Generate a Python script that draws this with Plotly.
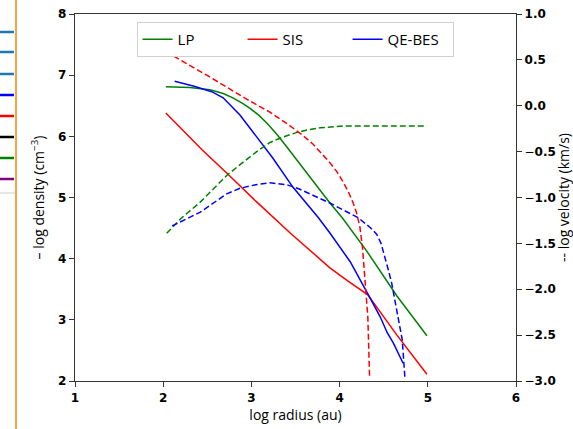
import plotly.graph_objects as go

# ---- data (log radius in au) ----
lp_r = [2.03, 2.30, 2.53, 2.68, 2.79, 2.90, 2.98, 3.08, 3.18, 3.29, 3.40, 3.60, 3.89, 4.03, 4.30, 4.65, 4.99]
lp_dens = [6.81, 6.80, 6.76, 6.70, 6.63, 6.54, 6.46, 6.35, 6.21, 6.03, 5.83, 5.45, 4.91, 4.67, 4.14, 3.39, 2.74]

lp_vr = [2.04, 2.20, 2.42, 2.72, 2.90, 3.06, 3.21, 3.36, 3.52, 3.65, 3.78, 3.90, 4.04, 4.50, 4.99]
lp_vel = [-1.39, -1.23, -1.05, -0.76, -0.62, -0.50, -0.40, -0.34, -0.29, -0.26, -0.24, -0.23, -0.22, -0.22, -0.22]

sis_r = [2.03, 2.44, 2.72, 3.05, 3.44, 3.89, 4.10, 4.32, 4.65, 4.99]
sis_dens = [6.38, 5.78, 5.40, 4.94, 4.42, 3.85, 3.63, 3.41, 2.75, 2.11]

sis_vr = [2.03, 2.50, 2.95, 3.21, 3.41, 3.58, 3.70, 3.80, 3.89, 3.97, 4.04, 4.10, 4.15, 4.19, 4.23, 4.26, 4.29, 4.32, 4.34]
sis_vel = [0.59, 0.33, 0.07, -0.07, -0.20, -0.32, -0.42, -0.52, -0.62, -0.72, -0.83, -0.94, -1.05, -1.16, -1.32, -1.55, -1.90, -2.30, -2.96]

bes_r = [2.13, 2.35, 2.55, 2.68, 2.87, 3.02, 3.24, 3.47, 3.76, 3.89, 4.12, 4.34, 4.46, 4.54, 4.61, 4.72]
bes_dens = [6.90, 6.82, 6.73, 6.63, 6.35, 6.07, 5.65, 5.17, 4.67, 4.42, 3.95, 3.37, 3.05, 2.79, 2.62, 2.29]

bes_vr = [2.10, 2.42, 2.72, 2.87, 3.05, 3.21, 3.40, 3.55, 3.89, 4.21, 4.35, 4.42, 4.47, 4.51, 4.55, 4.59, 4.66, 4.71, 4.74]
bes_vel = [-1.31, -1.16, -0.96, -0.90, -0.86, -0.84, -0.86, -0.91, -1.06, -1.22, -1.33, -1.40, -1.50, -1.63, -1.78, -1.93, -2.30, -2.55, -2.96]

x_ticks = [1, 2, 3, 4, 5, 6]
y_ticks = [2, 3, 4, 5, 6, 7, 8]
v_ticks = [1.0, 0.5, 0.0, -0.5, -1.0, -1.5, -2.0, -2.5, -3.0]

GREEN, RED, BLUE = "#008000", "#ff0000", "#0000ff"
DASH = "6px,3px"

fig = go.Figure()
fig.add_trace(go.Scatter(x=lp_r, y=lp_dens, mode="lines", name="LP",
                         line=dict(color=GREEN, width=1.5)))
fig.add_trace(go.Scatter(x=sis_r, y=sis_dens, mode="lines", name="SIS",
                         line=dict(color=RED, width=1.5)))
fig.add_trace(go.Scatter(x=bes_r, y=bes_dens, mode="lines", name="QE-BES",
                         line=dict(color=BLUE, width=1.5)))
fig.add_trace(go.Scatter(x=lp_vr, y=lp_vel, mode="lines", yaxis="y2", showlegend=False,
                         line=dict(color=GREEN, width=1.5, dash=DASH)))
fig.add_trace(go.Scatter(x=sis_vr, y=sis_vel, mode="lines", yaxis="y2", showlegend=False,
                         line=dict(color=RED, width=1.5, dash=DASH)))
fig.add_trace(go.Scatter(x=bes_vr, y=bes_vel, mode="lines", yaxis="y2", showlegend=False,
                         line=dict(color=BLUE, width=1.5, dash=DASH)))

tickfont = dict(family="DejaVu Sans", size=12, color="black")
axis_common = dict(showgrid=False, zeroline=False, showline=True, linecolor="#333",
                   linewidth=1.3, ticks="outside", ticklen=5, tickcolor="#333", tickwidth=1.2,
                   automargin=False)

def fmt(v):
    s = f"{abs(v):.1f}"
    return f"<b>{s}</b>" if v >= 0 else f"\u2212<b>{s}</b>"

fig.update_layout(
    width=573, height=429,
    margin=dict(l=75, r=57, t=14, b=48),
    paper_bgcolor="white", plot_bgcolor="white",
    font=dict(family="Open Sans", color="black"),
    xaxis=dict(range=[1, 6], tickvals=x_ticks, ticktext=[f"<b>{t}</b>" for t in x_ticks],
               tickfont=tickfont, mirror=True,
               title=dict(text="log radius (au)", font=dict(size=14), standoff=4), **axis_common),
    yaxis=dict(range=[2, 8], tickvals=y_ticks, ticktext=[f"<b>{t}</b>" for t in y_ticks],
               tickfont=tickfont,
               title=dict(text="\u2013 log density (cm<sup>\u22123</sup>)", font=dict(size=14), standoff=10),
               **axis_common),
    yaxis2=dict(range=[-3, 1], overlaying="y", side="right", tickvals=v_ticks,
                ticktext=[fmt(v) for v in v_ticks], tickfont=tickfont,
                title=dict(text="-- log velocity (km/s)", font=dict(size=14), standoff=0),
                **axis_common),
    legend=dict(orientation="h", x=0.499, xanchor="center", y=0.978, yanchor="top",
                bgcolor="white", bordercolor="#d0d0d0", borderwidth=1,
                font=dict(family="Open Sans", size=15), entrywidth=60, entrywidthmode="pixels"),
    showlegend=True,
)

# left-side screenshot remnants (decoration)
def px_x(p):
    return (p - 75) / 441
def px_y(p):
    return 1 - (p - 14) / 367

fig.add_shape(type="line", xref="paper", yref="paper", x0=px_x(16), x1=px_x(16), y0=px_y(0), y1=px_y(429),
              line=dict(color="#f7a540", width=2))
stubs = [(32, "#1f77b4"), (52, "#1f77b4"), (74, "#1f77b4"), (95, "#0000ff"),
         (116, "#ff0000"), (137, "#000000"), (158, "#008000"), (179, "#800080")]
for yy, c in stubs:
    fig.add_shape(type="line", xref="paper", yref="paper", x0=px_x(0), x1=px_x(14),
                  y0=px_y(yy), y1=px_y(yy), line=dict(color=c, width=2.5))
fig.add_shape(type="line", xref="paper", yref="paper", x0=px_x(0), x1=px_x(15),
              y0=px_y(193), y1=px_y(193), line=dict(color="#cccccc", width=1))

fig.write_html("out.html", config={"displayModeBar": False},
               post_script="document.body.style.margin='0';document.body.style.overflow='hidden';")
